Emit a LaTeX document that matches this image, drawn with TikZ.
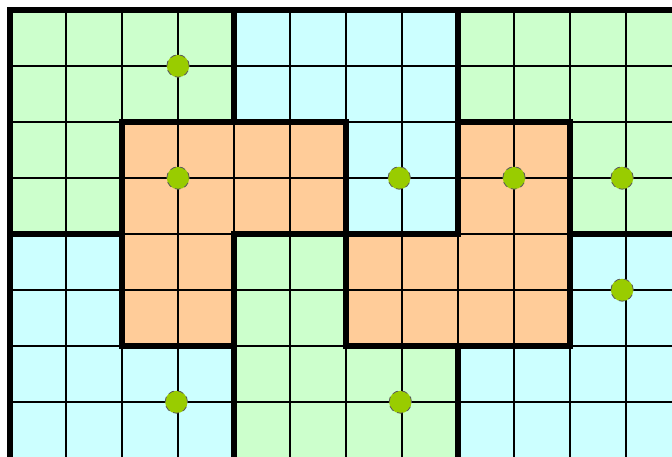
\documentclass[tikz,border=0pt]{standalone}
\usepackage{tikz}
\usepackage{xcolor}

\definecolor{zonegreen}{HTML}{CCFFCC}
\definecolor{zoneblue}{HTML}{CCFFFF}
\definecolor{zoneorange}{HTML}{FFCC99}
\definecolor{seedgreen}{HTML}{99CC00}

\begin{document}
\begin{tikzpicture}[
  x=1cm, y=-1cm,
  greenzone/.style={fill=zonegreen},
  bluezone/.style={fill=zoneblue},
  orangezone/.style={fill=zoneorange},
  gridline/.style={draw=black, line width=1pt},
  border/.style={draw=black, line width=2.6pt, line join=miter},
  seed/.style={circle, fill=seedgreen, draw=black!65, densely dashed,
    line width=0.4pt, minimum size=0.4cm, inner sep=0pt}
]
  \useasboundingbox (-0.1786,-0.1786) rectangle (11.821,7.982);
  \clip (-0.1786,-0.1786) rectangle (11.821,7.982);

  % upper blocks
  \path[greenzone] (0,0) -- (4,0) -- (4,2) -- (2,2) -- (2,4) -- (0,4) -- cycle;
  \path[bluezone] (4,0) -- (8,0) -- (8,4) -- (6,4) -- (6,2) -- (4,2) -- cycle;
  \path[greenzone] (8,0) -- (12.5,0) -- (12.5,4) -- (10,4) -- (10,2) -- (8,2) -- cycle;

  % lower blocks
  \path[bluezone] (0,4) -- (2,4) -- (2,6) -- (4,6) -- (4,8.5) -- (0,8.5) -- cycle;
  \path[greenzone] (4,4) -- (6,4) -- (6,6) -- (8,6) -- (8,8.5) -- (4,8.5) -- cycle;
  \path[bluezone] (10,4) -- (12.5,4) -- (12.5,8.5) -- (8,8.5) -- (8,6) -- (10,6) -- cycle;

  % merged zones
  \path[orangezone] (2,2) -- (6,2) -- (6,4) -- (4,4) -- (4,6) -- (2,6) -- cycle;
  \path[orangezone] (8,2) -- (10,2) -- (10,6) -- (6,6) -- (6,4) -- (8,4) -- cycle;

  % cells
  \draw[gridline] (0,0) grid (12.5,8.5);

  % zone borders
  \draw[border] (0,8.5) -- (0,0) -- (12.5,0);
  \draw[border] (4,0) -- (4,2);
  \draw[border] (8,0) -- (8,2);
  \draw[border] (0,4) -- (2,4);
  \draw[border] (10,4) -- (12.5,4);
  \draw[border] (4,6) -- (4,8.5);
  \draw[border] (8,6) -- (8,8.5);
  \draw[border] (2,2) -- (6,2) -- (6,4) -- (4,4) -- (4,6) -- (2,6) -- cycle;
  \draw[border] (8,2) -- (10,2) -- (10,6) -- (6,6) -- (6,4) -- (8,4) -- cycle;

  % seeds
  \node[seed] (seed1) at (3,1) {};
  \node[seed] (seed2) at (3,3) {};
  \node[seed] (seed3) at (6.95,3) {};
  \node[seed] (seed4) at (9,3) {};
  \node[seed] (seed5) at (10.93,3) {};
  \node[seed] (seed6) at (10.93,5) {};
  \node[seed] (seed7) at (2.97,7) {};
  \node[seed] (seed8) at (6.97,7) {};
\end{tikzpicture}
\end{document}
